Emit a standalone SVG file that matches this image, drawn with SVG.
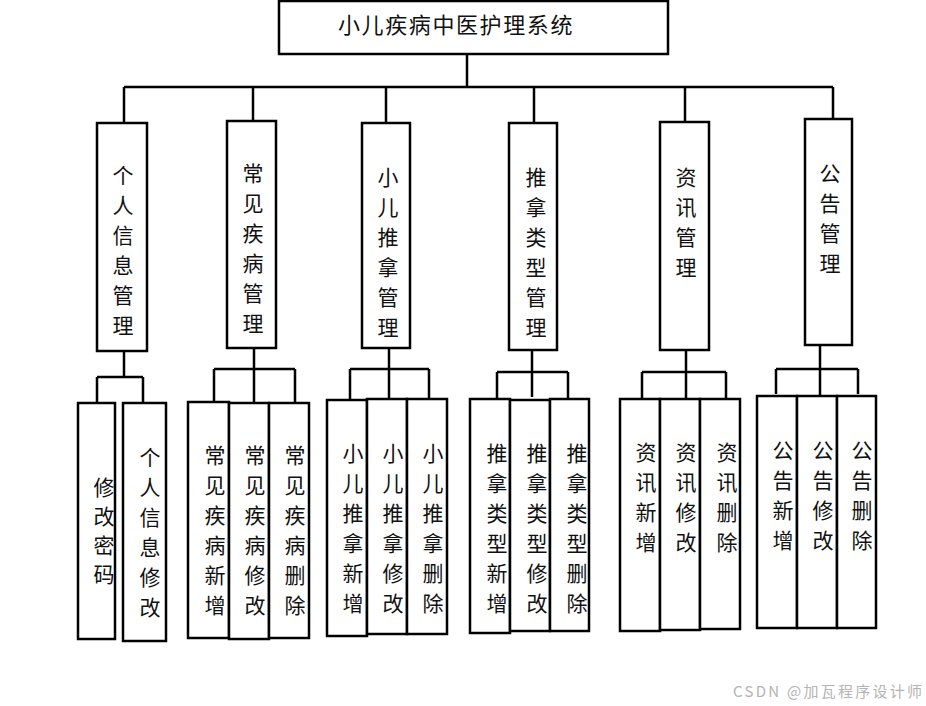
<svg xmlns="http://www.w3.org/2000/svg" width="926" height="706" viewBox="0 0 926 706">
<style>
.b{fill:#fff;stroke:#000;stroke-width:2.5}
.c{fill:none;stroke:#000;stroke-width:2.5}
text{font-family:"Noto Sans CJK SC","Liberation Sans",sans-serif;font-size:21px;fill:#111;text-anchor:middle}
.wm{font-size:15px;fill:#b4b4b4;text-anchor:start}
</style>
<rect width="926" height="706" fill="#fff"/>
<g id="connectors">
<path class="c" d="M467 55V88M124 87H833M124 87V122M253 87V121M386 87V123M534 87V123M685 87V122M833 87V119"/>
<path class="c" d="M124 351V377M97 377H143M97 377V403M143 377V403"/>
<path class="c" d="M254 348V402M214 369H295M214 369V402M295 369V402"/>
<path class="c" d="M389 348V369M350 369H429M350 369V400M389 369V400M429 369V399"/>
<path class="c" d="M532 350V397M497 372H568M497 372V399M568 372V399"/>
<path class="c" d="M686 350V399M642 372H726M642 372V399M726 372V399"/>
<path class="c" d="M820 345V396M776 369H858M776 369V394M858 369V394"/>
</g>
<g id="root">
<rect class="b" x="279" y="1" width="389" height="53"/>
<text x="338" y="33" style="text-anchor:start;font-size:22px;letter-spacing:1.6px">小儿疾病中医护理系统</text>
</g>
<g id="n1">
<rect class="b" x="97" y="123" width="50" height="228"/>
<text x="123" y="183"><tspan x="123">个</tspan><tspan x="123" dy="30">人</tspan><tspan x="123" dy="30">信</tspan><tspan x="123" dy="30">息</tspan><tspan x="123" dy="30">管</tspan><tspan x="123" dy="30">理</tspan></text>
</g>
<g id="n2">
<rect class="b" x="227" y="121" width="49" height="227"/>
<text x="253" y="181"><tspan x="253">常</tspan><tspan x="253" dy="30">见</tspan><tspan x="253" dy="30">疾</tspan><tspan x="253" dy="30">病</tspan><tspan x="253" dy="30">管</tspan><tspan x="253" dy="30">理</tspan></text>
</g>
<g id="n3">
<rect class="b" x="362" y="123" width="48" height="225"/>
<text x="388" y="185"><tspan x="388">小</tspan><tspan x="388" dy="30">儿</tspan><tspan x="388" dy="30">推</tspan><tspan x="388" dy="30">拿</tspan><tspan x="388" dy="30">管</tspan><tspan x="388" dy="30">理</tspan></text>
</g>
<g id="n4">
<rect class="b" x="509" y="123" width="48" height="227"/>
<text x="536" y="185"><tspan x="536">推</tspan><tspan x="536" dy="30">拿</tspan><tspan x="536" dy="30">类</tspan><tspan x="536" dy="30">型</tspan><tspan x="536" dy="30">管</tspan><tspan x="536" dy="30">理</tspan></text>
</g>
<g id="n5">
<rect class="b" x="660" y="122" width="49" height="228"/>
<text x="686" y="185"><tspan x="686">资</tspan><tspan x="686" dy="30">讯</tspan><tspan x="686" dy="30">管</tspan><tspan x="686" dy="30">理</tspan></text>
</g>
<g id="n6">
<rect class="b" x="805" y="119" width="47" height="226"/>
<text x="830" y="181"><tspan x="830">公</tspan><tspan x="830" dy="30">告</tspan><tspan x="830" dy="30">管</tspan><tspan x="830" dy="30">理</tspan></text>
</g>
<g id="n1a">
<rect class="b" x="78" y="403" width="37" height="236"/>
<text x="104" y="495"><tspan x="104">修</tspan><tspan x="104" dy="29">改</tspan><tspan x="104" dy="29">密</tspan><tspan x="104" dy="29">码</tspan></text>
</g>
<g id="n1b">
<rect class="b" x="123" y="403" width="43" height="238"/>
<text x="150" y="465"><tspan x="150">个</tspan><tspan x="150" dy="30">人</tspan><tspan x="150" dy="30">信</tspan><tspan x="150" dy="30">息</tspan><tspan x="150" dy="30">修</tspan><tspan x="150" dy="30">改</tspan></text>
</g>
<g id="n2a">
<rect class="b" x="188" y="402" width="41" height="236"/>
<text x="215" y="463"><tspan x="215">常</tspan><tspan x="215" dy="30">见</tspan><tspan x="215" dy="30">疾</tspan><tspan x="215" dy="30">病</tspan><tspan x="215" dy="30">新</tspan><tspan x="215" dy="30">增</tspan></text>
</g>
<g id="n2b">
<rect class="b" x="229" y="403" width="40" height="236"/>
<text x="255" y="463"><tspan x="255">常</tspan><tspan x="255" dy="30">见</tspan><tspan x="255" dy="30">疾</tspan><tspan x="255" dy="30">病</tspan><tspan x="255" dy="30">修</tspan><tspan x="255" dy="30">改</tspan></text>
</g>
<g id="n2c">
<rect class="b" x="269" y="403" width="40" height="235"/>
<text x="295" y="463"><tspan x="295">常</tspan><tspan x="295" dy="30">见</tspan><tspan x="295" dy="30">疾</tspan><tspan x="295" dy="30">病</tspan><tspan x="295" dy="30">删</tspan><tspan x="295" dy="30">除</tspan></text>
</g>
<g id="n3a">
<rect class="b" x="327" y="400" width="40" height="236"/>
<text x="353" y="461"><tspan x="353">小</tspan><tspan x="353" dy="30">儿</tspan><tspan x="353" dy="30">推</tspan><tspan x="353" dy="30">拿</tspan><tspan x="353" dy="30">新</tspan><tspan x="353" dy="30">增</tspan></text>
</g>
<g id="n3b">
<rect class="b" x="367" y="399" width="40" height="235"/>
<text x="393" y="461"><tspan x="393">小</tspan><tspan x="393" dy="30">儿</tspan><tspan x="393" dy="30">推</tspan><tspan x="393" dy="30">拿</tspan><tspan x="393" dy="30">修</tspan><tspan x="393" dy="30">改</tspan></text>
</g>
<g id="n3c">
<rect class="b" x="407" y="399" width="40" height="235"/>
<text x="433" y="461"><tspan x="433">小</tspan><tspan x="433" dy="30">儿</tspan><tspan x="433" dy="30">推</tspan><tspan x="433" dy="30">拿</tspan><tspan x="433" dy="30">删</tspan><tspan x="433" dy="30">除</tspan></text>
</g>
<g id="n4a">
<rect class="b" x="470" y="399" width="40" height="234"/>
<text x="497" y="461"><tspan x="497">推</tspan><tspan x="497" dy="30">拿</tspan><tspan x="497" dy="30">类</tspan><tspan x="497" dy="30">型</tspan><tspan x="497" dy="30">新</tspan><tspan x="497" dy="30">增</tspan></text>
</g>
<g id="n4b">
<rect class="b" x="510" y="400" width="40" height="231"/>
<text x="537" y="461"><tspan x="537">推</tspan><tspan x="537" dy="30">拿</tspan><tspan x="537" dy="30">类</tspan><tspan x="537" dy="30">型</tspan><tspan x="537" dy="30">修</tspan><tspan x="537" dy="30">改</tspan></text>
</g>
<g id="n4c">
<rect class="b" x="550" y="399" width="39" height="232"/>
<text x="577" y="461"><tspan x="577">推</tspan><tspan x="577" dy="30">拿</tspan><tspan x="577" dy="30">类</tspan><tspan x="577" dy="30">型</tspan><tspan x="577" dy="30">删</tspan><tspan x="577" dy="30">除</tspan></text>
</g>
<g id="n5a">
<rect class="b" x="620" y="399" width="40" height="232"/>
<text x="646" y="460"><tspan x="646">资</tspan><tspan x="646" dy="30">讯</tspan><tspan x="646" dy="30">新</tspan><tspan x="646" dy="30">增</tspan></text>
</g>
<g id="n5b">
<rect class="b" x="660" y="399" width="40" height="231"/>
<text x="686" y="460"><tspan x="686">资</tspan><tspan x="686" dy="30">讯</tspan><tspan x="686" dy="30">修</tspan><tspan x="686" dy="30">改</tspan></text>
</g>
<g id="n5c">
<rect class="b" x="700" y="399" width="40" height="230"/>
<text x="727" y="460"><tspan x="727">资</tspan><tspan x="727" dy="30">讯</tspan><tspan x="727" dy="30">删</tspan><tspan x="727" dy="30">除</tspan></text>
</g>
<g id="n6a">
<rect class="b" x="757" y="396" width="40" height="232"/>
<text x="783" y="458"><tspan x="783">公</tspan><tspan x="783" dy="30">告</tspan><tspan x="783" dy="30">新</tspan><tspan x="783" dy="30">增</tspan></text>
</g>
<g id="n6b">
<rect class="b" x="797" y="396" width="40" height="232"/>
<text x="823" y="458"><tspan x="823">公</tspan><tspan x="823" dy="30">告</tspan><tspan x="823" dy="30">修</tspan><tspan x="823" dy="30">改</tspan></text>
</g>
<g id="n6c">
<rect class="b" x="837" y="396" width="39" height="232"/>
<text x="862" y="458"><tspan x="862">公</tspan><tspan x="862" dy="30">告</tspan><tspan x="862" dy="30">删</tspan><tspan x="862" dy="30">除</tspan></text>
</g>
<text class="wm" x="733" y="697" textLength="189" lengthAdjust="spacing">CSDN @加瓦程序设计师</text>
</svg>
